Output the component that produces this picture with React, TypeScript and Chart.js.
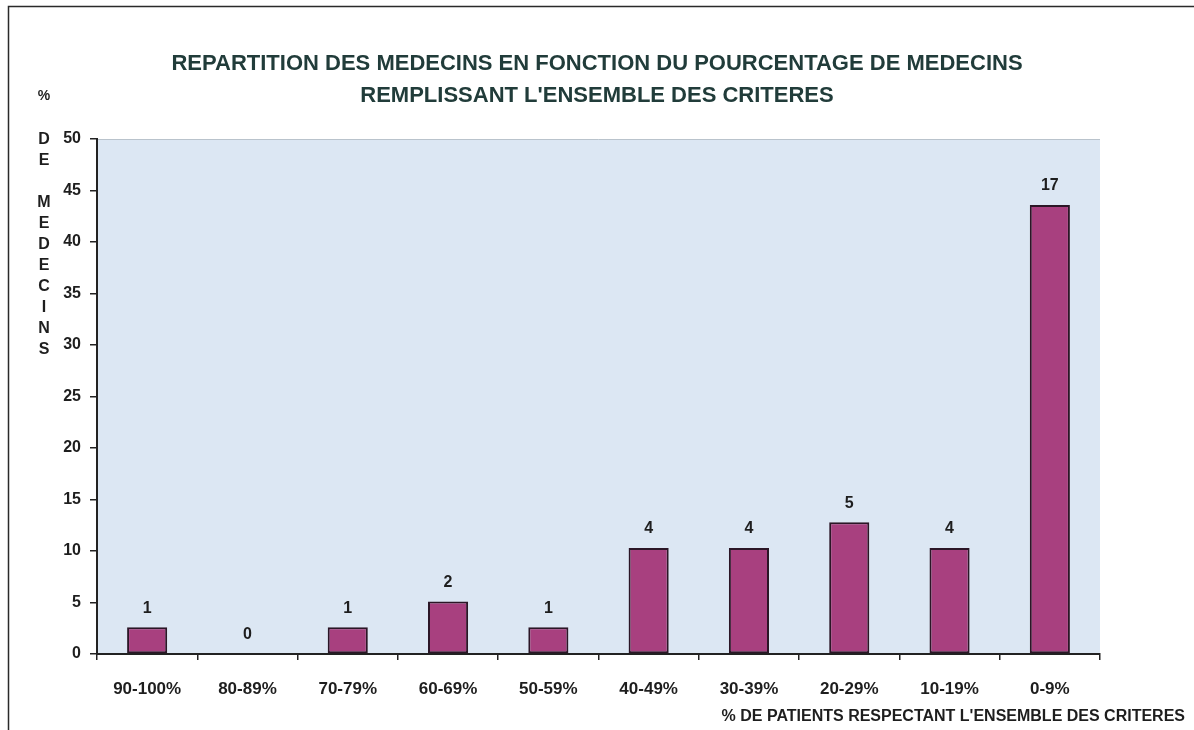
import React, { useEffect, useRef } from "react";
import { Chart, registerables } from "chart.js";

Chart.register(...registerables);

const categories = ["90-100%", "80-89%", "70-79%", "60-69%", "50-59%", "40-49%", "30-39%", "20-29%", "10-19%", "0-9%"];
const percentValues = [2.6, 0, 2.6, 5.1, 2.6, 10.3, 10.3, 12.8, 10.3, 43.6];
const doctorCounts = [1, 0, 1, 2, 1, 4, 4, 5, 4, 17];
const yMin = 0;
const yMax = 50;
const yStep = 5;
const titleLines = [
  "REPARTITION DES MEDECINS EN FONCTION DU POURCENTAGE DE MEDECINS",
  "REMPLISSANT L'ENSEMBLE DES CRITERES",
];
const yUnitLabel = "%";
const yAxisLetters = ["D", "E", "", "M", "E", "D", "E", "C", "I", "N", "S"];
const xAxisTitle = "% DE PATIENTS RESPECTANT L'ENSEMBLE DES CRITERES";

const FONT = "'Liberation Sans', Arial, sans-serif";
const TEXT_DARK = "#1e1e1e";
const TITLE_COLOR = "#213c3a";

const decorPlugin = {
  id: "decor",
  beforeDraw(chart: any) {
    const { ctx, chartArea } = chart;
    ctx.save();
    ctx.fillStyle = "#ffffff";
    ctx.fillRect(0, 0, chart.width, chart.height);
    // plot background
    ctx.fillStyle = "#dce7f3";
    ctx.fillRect(chartArea.left, chartArea.top, chartArea.right - chartArea.left, chartArea.bottom - chartArea.top);
    ctx.strokeStyle = "#b9c3cc";
    ctx.lineWidth = 1;
    ctx.beginPath();
    ctx.moveTo(chartArea.left, chartArea.top + 0.5);
    ctx.lineTo(chartArea.right, chartArea.top + 0.5);
    ctx.stroke();
    // frame
    ctx.strokeStyle = "#2a2a2a";
    ctx.lineWidth = 1.5;
    ctx.beginPath();
    ctx.moveTo(8.5, chart.height);
    ctx.lineTo(8.5, 6.5);
    ctx.lineTo(chart.width, 6.5);
    ctx.stroke();
    ctx.restore();
  },
  afterDraw(chart: any) {
    const { ctx, chartArea } = chart;
    ctx.save();
    // title
    ctx.fillStyle = TITLE_COLOR;
    ctx.textAlign = "center";
    ctx.textBaseline = "middle";
    ctx.font = `bold 22px ${FONT}`;
    titleLines.forEach((line, i) => {
      ctx.fillText(line, chart.width / 2, 64 + i * 32);
    });
    ctx.fillStyle = TEXT_DARK;
    ctx.font = `bold 14px ${FONT}`;
    ctx.fillText(yUnitLabel, 44, chartArea.top - 43);
    ctx.font = `bold 16px ${FONT}`;
    yAxisLetters.forEach((ch, i) => {
      if (ch) ctx.fillText(ch, 44, chartArea.top + 1 + i * 21);
    });
    // x axis title
    ctx.font = `bold 16px ${FONT}`;
    ctx.textAlign = "right";
    ctx.fillText(xAxisTitle, 1185, 717);
    // data labels
    const meta = chart.getDatasetMeta(0);
    ctx.font = `bold 16px ${FONT}`;
    ctx.textAlign = "center";
    meta.data.forEach((bar: any, i: number) => {
      ctx.fillText(String(doctorCounts[i]), bar.x, bar.y - 19);
    });
    ctx.restore();
  },
};

export default function App() {
  const canvasRef = useRef<HTMLCanvasElement | null>(null);

  useEffect(() => {
    document.body.style.margin = "0";
    const canvas = canvasRef.current;
    if (!canvas) return;
    const chart = new Chart(canvas, {
      type: "bar",
      data: {
        labels: categories,
        datasets: [
          {
            data: percentValues,
            backgroundColor: "#a8407f",
            borderColor: "#2b1626",
            borderWidth: 2,
            borderSkipped: false,
            categoryPercentage: 1,
            barPercentage: 0.4,
          },
        ],
      },
      options: {
        responsive: false,
        animation: false,
        layout: { padding: { left: 0, right: 94, top: 139, bottom: 0 } },
        plugins: {
          legend: { display: false },
          tooltip: { enabled: false },
          title: { display: false },
        },
        scales: {
          x: {
            grid: {
              display: true,
              drawOnChartArea: false,
              drawTicks: true,
              tickLength: 6,
              color: "#222222",
              lineWidth: 1.5,
              offset: true,
            },
            border: { display: true, color: "#222222", width: 2 },
            ticks: {
              color: TEXT_DARK,
              font: { family: FONT, size: 17, weight: "bold" },
              padding: 19,
              maxRotation: 0,
              autoSkip: false,
            },
            afterFit(scale: any) {
              scale.height = 76;
            },
          },
          y: {
            min: yMin,
            max: yMax,
            ticks: {
              stepSize: yStep,
              color: TEXT_DARK,
              font: { family: FONT, size: 16, weight: "bold" },
              padding: 9,
            },
            grid: {
              display: true,
              drawOnChartArea: false,
              drawTicks: true,
              tickLength: 7,
              color: "#222222",
              lineWidth: 1.5,
            },
            border: { display: true, color: "#222222", width: 2 },
            afterFit(scale: any) {
              scale.width = 97;
            },
          },
        },
      },
      plugins: [decorPlugin],
    });
    return () => chart.destroy();
  }, []);

  return (
    <div style={{ width: 1194, height: 730, position: "relative" }}>
      <canvas ref={canvasRef} width={1194} height={730} style={{ display: "block" }} />
    </div>
  );
}
